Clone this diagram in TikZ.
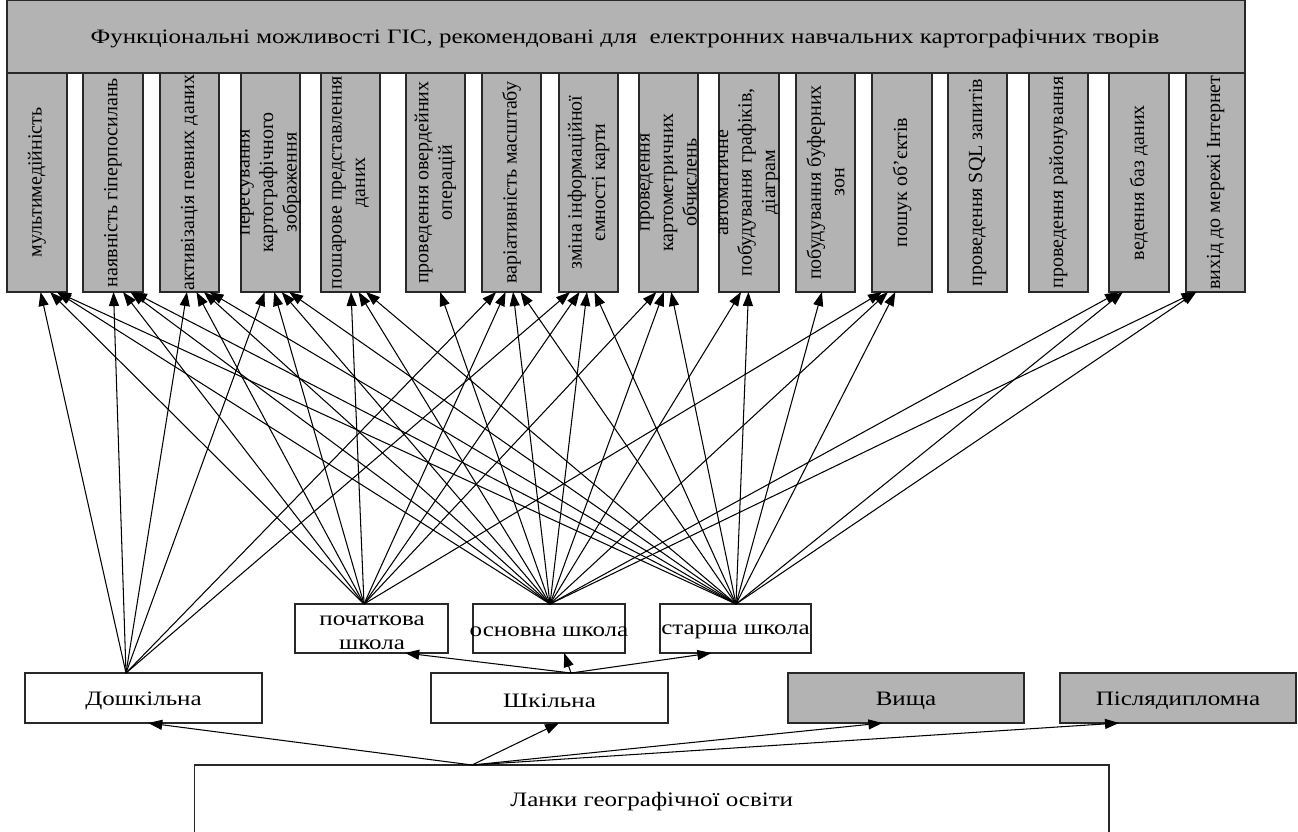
\documentclass[tikz,border=0pt]{standalone}
\usepackage{fontspec}
\setmainfont{Liberation Serif}
\newfontfamily\wideserif[FakeStretch=1.22]{Liberation Serif}
\usetikzlibrary{arrows.meta,calc}
\definecolor{boxgray}{RGB}{179,179,179}
\definecolor{edgegray}{RGB}{40,40,40}
\begin{document}
\begin{tikzpicture}[x=1pt,y=-1pt,
  every node/.style={inner sep=0pt,outer sep=0pt},
  gbox/.style={draw=edgegray,line width=1.2pt,fill=boxgray},
  wbox/.style={draw=edgegray,line width=1.2pt,fill=white},
  txt/.style={font=\wideserif\fontsize{20.5}{24}\selectfont,align=center},
  vtxt/.style={font=\fontsize{20}{23.5}\selectfont,align=center,rotate=90},
  arr/.style={line width=1.05pt,-{Triangle[length=14pt,width=10pt]}}]
\useasboundingbox (0,0) rectangle (1298,832);
% header
\node[gbox,minimum width=1238,minimum height=73] (head) at (626,36.5) {};
\node[txt] (headT) at (625,39)
  {Функціональні можливості ГІС, рекомендовані для\ \ електронних навчальних картографічних творів};
% vertical boxes
\foreach \i/\l/\r in {1/7/67,2/83/143,3/160/219,4/241/300,5/321/380,6/406/465,7/482/541,8/559/618,
  9/639/698,10/719/779,11/796/855,12/872/932,13/948/1007,14/1029/1088,15/1109/1169,16/1186/1245}{
  \node[gbox,minimum width={\r-\l},minimum height=219] (b\i) at ({(\l+\r)/2},182.5) {};
}
\foreach \i/\t in {1/{мультимедійність},2/{наявність гіперпосилань},3/{активізація певних даних},
  4/{пересування\\картографічного\\зображення},5/{пошарове представлення\\даних},
  6/{проведення овердейних\\операцій},7/{варіативність масштабу},8/{зміна інформаційної\\ємності карти},
  9/{проведення\\картометричних\\обчислень},10/{автоматичне\\побудування графіків,\\діаграм},
  11/{побудування буферних\\зон},12/{пошук об’єктів},13/{проведення SQL запитів},
  14/{проведення районування},15/{ведення баз даних},16/{вихід до мережі Інтернет}}{
  \node[vtxt] (t\i) at (b\i.center) {\t};
}
% school level boxes
\node[wbox,minimum width=153,minimum height=49] (poch) at (371.5,628.5) {};
\node[txt] (pochT) at (372,632.5) {початкова\\школа};
\node[wbox,minimum width=152,minimum height=49] (osn) at (549,628.5) {};
\node[txt,yshift=-3pt] (osnT) at (osn.center) {основна школа};
\node[wbox,minimum width=151,minimum height=49] (star) at (735.5,628.5) {};
\node[txt,yshift=-3pt] (starT) at (star.center) {старша школа};
% education levels
\node[wbox,minimum width=237,minimum height=50] (dosh) at (143.5,698) {};
\node[txt,yshift=-3pt] (doshT) at (dosh.center) {Дошкільна};
\node[wbox,minimum width=237,minimum height=50] (shk) at (549.5,698) {};
\node[txt,yshift=-3pt] (shkT) at (shk.center) {Шкільна};
\node[gbox,minimum width=236,minimum height=50] (vysh) at (906,698) {};
\node[txt,yshift=-3pt] (vyshT) at (vysh.center) {Вища};
\node[gbox,minimum width=236,minimum height=50] (pisl) at (1178,698) {};
\node[txt,yshift=-3pt] (pislT) at (pisl.center) {Післядипломна};
\node[wbox,minimum width=914.5,minimum height=80] (lanky) at (651.75,805) {};
\node[txt] (lankyT) at (651.75,802) {Ланки географічної освіти};
% connection points
\coordinate (cD) at (126,673);
\coordinate (cP) at (364,604);
\coordinate (cO) at (550,604);
\coordinate (cS) at (736,604);
\coordinate (cSh) at (571,673);
\coordinate (cL) at (472,765);
% arrows to functions
\foreach \s/\ts in {cD/{1,2,3,4,7,8},cP/{1,2,3,4,5,7,8,9,12},
  cO/{1,2,3,4,5,6,7,8,9,10,12,15,16},cS/{1,2,3,4,5,7,8,9,10,11,12,15,16}}{
  \foreach \t in \ts {
    \draw[arr] let \p1=(\s), \p2=(b\t.south), \n1={max(-20,min(20,0.04*(\x1-\x2)))} in
      (\s) -- (\x2+\n1,\y2);
  }
}
% school sub-levels
\draw[arr] (cSh) -- ($(poch.south west)!0.72!(poch.south east)$);
\draw[arr] (cSh) -- ($(osn.south west)!0.6!(osn.south east)$);
\draw[arr] (cSh) -- ($(star.south west)!0.34!(star.south east)$);
% from Ланки
\draw[arr] (cL) -- ($(dosh.south west)!0.52!(dosh.south east)$);
\draw[arr] (cL) -- ($(shk.south west)!0.54!(shk.south east)$);
\draw[arr] (cL) -- ($(vysh.south west)!0.4!(vysh.south east)$);
\draw[arr] (cL) -- ($(pisl.south west)!0.25!(pisl.south east)$);
\end{tikzpicture}
\end{document}
